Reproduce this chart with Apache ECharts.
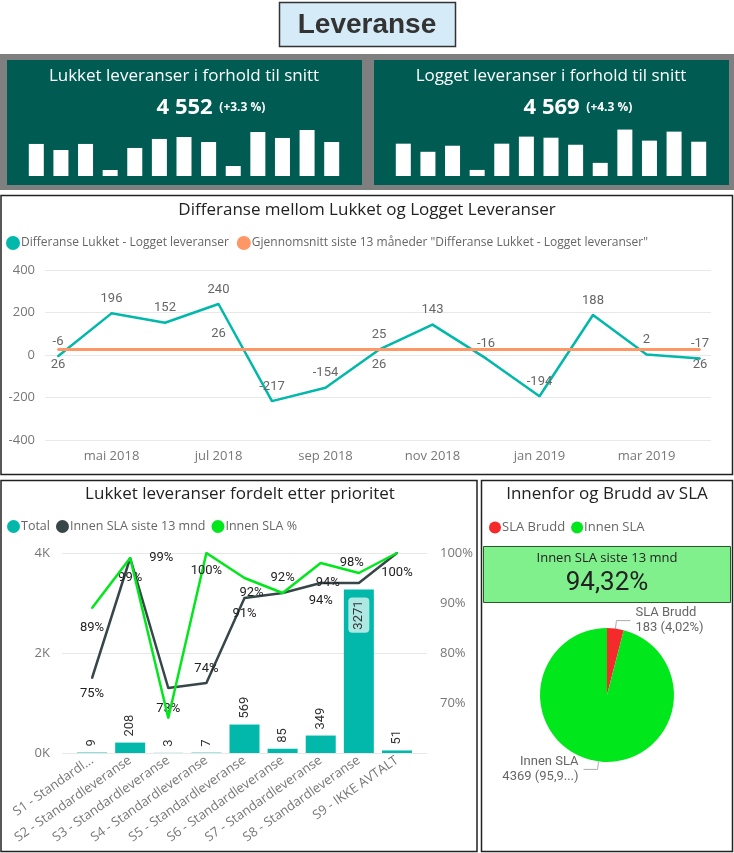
<!DOCTYPE html>
<html><head><meta charset="utf-8">
<script src="https://cdn.jsdelivr.net/npm/echarts@6/dist/echarts.min.js"></script>
<style>html,body{margin:0;padding:0;background:#fff}#c{width:734px;height:853px}</style>
</head><body><div id="c"></div>
<script>
// ---- data ----
const miniLukket = [359, 291, 359, 67, 314, 415, 437, 381, 112, 493, 426, 515, 381];
const miniLogget = [362, 271, 339, 68, 362, 441, 429, 350, 147, 520, 396, 497, 384];
const months = ['apr 2018','mai 2018','jun 2018','jul 2018','aug 2018','sep 2018','okt 2018','nov 2018','des 2018','jan 2019','feb 2019','mar 2019','apr 2019'];
const diffValues = [-6, 196, 152, 240, -217, -154, 25, 143, -16, -194, 188, 2, -17];
const avgValue = 26;
const monthTicks = [1, 3, 5, 7, 9, 11];
const priorities = ['S1 - Standardl...','S2 - Standardleveranse','S3 - Standardleveranse','S4 - Standardleveranse','S5 - Standardleveranse','S6 - Standardleveranse','S7 - Standardleveranse','S8 - Standardleveranse','S9 - IKKE AVTALT'];
const totals = [9, 208, 3, 7, 569, 85, 349, 3271, 51];
const innenSla13 = [75, 99, 73, 74, 91, 92, 94, 94, 100];
const innenSlaPct = [89, 99, 67, 100, 95, 92, 98, 96, 100];
const slaNames = ['SLA Brudd', 'Innen SLA'];
const slaValues = [183, 4369];
const kpiLukket = '4 552', kpiLukketPct = '(+3.3 %)';
const kpiLogget = '4 569', kpiLoggetPct = '(+4.3 %)';
const slaCardValue = '94,32%';

// ---- styles ----
const F = '"Segoe UI","Open Sans",sans-serif';
const FN = 'Roboto,"DejaVu Sans",sans-serif';
const TEAL = '#01B8AA', DARK = '#374649', ORANGE = '#FE9666', GREEN = '#00e81c', RED = '#f52a2a';
const diffName = 'Differanse Lukket - Logget leveranser';
const avgName = 'Gjennomsnitt siste 13 måneder "Differanse Lukket - Logget leveranser"';

const chart = echarts.init(document.getElementById('c'));

function txt(x, y, text, font, fill, align) {
  return {type:'text', x:x, y:y, z:50, style:{text:text, font:font, fill:fill, textAlign:align||'center', textVerticalAlign:'middle'}};
}
function box(x, y, w, h, fill, stroke, lw, z) {
  return {type:'rect', z:z===undefined?-10:z, shape:{x:x, y:y, width:w, height:h}, style:{fill:fill, stroke:stroke||null, lineWidth:lw||0}};
}

const avgLabelPos = {0:'bottom', 3:'top', 6:'bottom', 12:'bottom'};
// label placement per point: [position, distance] or null (hidden)
const darkLabels = [['bottom',8],['bottom',12],['bottom',13],['top',7],['bottom',8],['left',18],['bottom',10],['left',18],null];
const greenLabels = [['bottom',12],['right',18],null,['bottom',10],null,['top',8],['right',18],null,['bottom',12]];
function pctData(vals, cfg) {
  return vals.map((v,i)=>({value:v, label: cfg[i] ? {show:true, position:cfg[i][0], distance:cfg[i][1]} : {show:false}}));
}

const option = {
  animation: false,
  textStyle: {fontFamily: F},
  graphic: [
    box(279.5, 2.5, 176, 44, '#d5ecf8', '#333', 1.5),
    txt(367, 25, 'Leveranse', 'bold 28px "Liberation Sans", Arial, sans-serif', '#333'),
    box(0, 54, 734, 136, '#7f7f7f'),
    box(7, 60, 355, 125, '#005c53'),
    box(374, 60, 355, 125, '#005c53'),
    txt(184, 76, 'Lukket leveranser i forhold til snitt', '17px ' + F, '#fff'),
    txt(551, 76, 'Logget leveranser i forhold til snitt', '17px ' + F, '#fff'),
    {type:'text', x:211, y:108, z:50, style:{text:'{a|' + kpiLukket + '}  {b|' + kpiLukketPct + '}', textAlign:'center', textVerticalAlign:'middle', fill:'#fff',
      rich:{a:{font:'bold 22px ' + F, fill:'#fff'}, b:{font:'bold 12px ' + F, fill:'#fff'}}}},
    {type:'text', x:578, y:108, z:50, style:{text:'{a|' + kpiLogget + '}  {b|' + kpiLoggetPct + '}', textAlign:'center', textVerticalAlign:'middle', fill:'#fff',
      rich:{a:{font:'bold 22px ' + F, fill:'#fff'}, b:{font:'bold 12px ' + F, fill:'#fff'}}}},
    box(1, 195.5, 731.5, 279, null, '#222', 1.5),
    txt(367, 210, 'Differanse mellom Lukket og Logget Leveranser', '17px ' + F, '#222'),
    box(1, 480.5, 476, 371, null, '#222', 1.5),
    txt(240, 494, 'Lukket leveranser fordelt etter prioritet', '17px ' + F, '#222'),
    box(481.5, 480.5, 251, 371, null, '#222', 1.5),
    txt(607, 494, 'Innenfor og Brudd av SLA', '17px ' + F, '#222'),
    box(483.5, 546.5, 247, 56, '#80f08c', '#2a5a2a', 1, -5),
    txt(607, 558, 'Innen SLA siste 13 mnd', '13px ' + F, '#222'),
    txt(607, 583, slaCardValue, '26px ' + FN, '#222')
  ],
  legend: [
    {data:[diffName, avgName], left:6, top:236, itemWidth:14, itemHeight:14, itemGap:8, icon:'circle', padding:0,
      textStyle:{fontSize:12, color:'#666', fontFamily:F, padding:[0,0,0,-4]}},
    {data:['Total','Innen SLA siste 13 mnd','Innen SLA %'], left:7, top:520, itemWidth:13, itemHeight:13, itemGap:6, icon:'circle', padding:0,
      textStyle:{fontSize:12.5, color:'#666', fontFamily:F, padding:[0,0,0,-4]}},
    {data:slaNames, left:489, top:521, itemWidth:12, itemHeight:12, itemGap:6, icon:'circle', padding:0,
      textStyle:{fontSize:13, color:'#666', fontFamily:F, padding:[0,0,0,-4]}}
  ],
  grid: [
    {left:24, width:320, top:126, height:50},
    {left:391, width:320, top:126, height:50},
    {left:45, right:23, top:270, bottom:413},
    {left:73, right:318, top:553, bottom:100},
    {left:62, right:307, top:553, bottom:100}
  ],
  xAxis: [
    {type:'category', gridIndex:0, data:months, show:false},
    {type:'category', gridIndex:1, data:months, show:false},
    {type:'value', gridIndex:2, min:-0.243, max:12.206, splitLine:{show:false}, axisLine:{show:false}, axisTick:{show:false},
      axisLabel:{customValues:monthTicks, formatter:(v)=>months[Math.round(v)], color:'#777', fontSize:13, margin:10, fontFamily:F}},
    {type:'category', gridIndex:3, data:priorities, axisLine:{show:false}, axisTick:{show:false},
      axisLabel:{rotate:35, color:'#777', fontSize:13, margin:6, fontFamily:F, interval:0}},
    {type:'value', gridIndex:4, show:false, min:0, max:1}
  ],
  yAxis: [
    {type:'value', gridIndex:0, min:0, max:560, show:false},
    {type:'value', gridIndex:1, min:0, max:560, show:false},
    {type:'value', gridIndex:2, min:-400, max:400, interval:200, axisLine:{show:false}, axisTick:{show:false},
      axisLabel:{color:'#777', fontSize:13, margin:10, fontFamily:F},
      splitLine:{lineStyle:{color:'#e8e8e8'}}},
    {type:'value', gridIndex:3, min:0, max:4000, interval:2000, axisLine:{show:false}, axisTick:{show:false},
      axisLabel:{color:'#777', fontSize:13, margin:23, fontFamily:F, formatter:(v)=>(v/1000)+'K'},
      splitLine:{show:false}},
    {type:'value', gridIndex:3, min:60, max:100, interval:10, position:'right', splitLine:{show:false}, axisLine:{show:false}, axisTick:{show:false},
      axisLabel:{color:'#777', fontSize:13, margin:24, fontFamily:F, showMinLabel:false, formatter:(v)=>v+'%'}},
    {type:'value', gridIndex:4, min:0, max:4000, interval:2000, axisLine:{show:false}, axisTick:{show:false}, axisLabel:{show:false},
      splitLine:{lineStyle:{color:'#e8e8e8'}}}
  ],
  series: [
    {type:'bar', name:'Lukket mnd', xAxisIndex:0, yAxisIndex:0, data:miniLukket, barWidth:15, itemStyle:{color:'#fff'}, silent:true},
    {type:'bar', name:'Logget mnd', xAxisIndex:1, yAxisIndex:1, data:miniLogget, barWidth:15, itemStyle:{color:'#fff'}, silent:true},
    {type:'line', name:diffName, xAxisIndex:2, yAxisIndex:2, data:diffValues.map((v,i)=>[i,v]), color:TEAL, symbol:'circle', symbolSize:2, showSymbol:true,
      lineStyle:{width:2.5, color:TEAL}, z:3,
      label:{show:true, position:'top', distance:7, color:'#666', fontSize:13, fontFamily:FN, formatter:(p)=>p.value[1]}},
    {type:'line', name:avgName, xAxisIndex:2, yAxisIndex:2, symbol:'circle', symbolSize:2, showSymbol:true,
      data:months.map((m,i)=>({value:[i,avgValue], label:{show: avgLabelPos[i]!==undefined, position: avgLabelPos[i]||'top'}})), color:ORANGE,
      lineStyle:{width:3, color:ORANGE}, z:4,
      label:{distance:8, color:'#666', fontSize:13, fontFamily:FN, formatter:(p)=>p.value[1]}},
    {type:'bar', name:'Total', xAxisIndex:3, yAxisIndex:3, color:TEAL, barWidth:30,
      data: totals.map((v)=> v > 2000 ? {value:v, label:{position:'insideTop', align:'right', distance:8, backgroundColor:'#aee8e2', padding:[4,3,4,3], borderRadius:4}} : v),
      label:{show:true, position:'top', rotate:90, align:'left', verticalAlign:'middle', distance:6, color:'#333', fontSize:13, fontFamily:FN}},
    {type:'line', name:'Innen SLA siste 13 mnd', xAxisIndex:3, yAxisIndex:4, color:DARK, symbol:'circle', symbolSize:2, showSymbol:true, lineStyle:{width:2.5, color:DARK}, z:5,
      data: pctData(innenSla13, darkLabels),
      label:{color:'#222', fontSize:13, fontFamily:FN, formatter:'{c}%'}},
    {type:'line', name:'Innen SLA %', xAxisIndex:3, yAxisIndex:4, color:GREEN, symbol:'circle', symbolSize:2, showSymbol:true, lineStyle:{width:2.5, color:GREEN}, z:6,
      data: pctData(innenSlaPct, greenLabels),
      label:{color:'#222', fontSize:13, fontFamily:FN, formatter:'{c}%'}},
    {type:'pie', name:'SLA', center:[607,695], radius:67, startAngle:90, clockwise:true,
      data: slaNames.map((n,i)=>({name:n, value:slaValues[i], itemStyle:{color: i===0?RED:GREEN}})),
      label:{show:true, position:'outside', color:'#666', fontSize:13, fontFamily:FN, lineHeight:15,
        formatter:(p)=>{ const pct = (p.value/slaValues.reduce((a,b)=>a+b,0)*100).toFixed(2).replace('.',',');
          const s = p.value + ' (' + pct + '%)'; return p.name + '\n' + (s.length > 12 ? s.slice(0,10) + '...)' : s); }},
      labelLine:{show:true, length:8, length2:14, lineStyle:{color:'#aaa', width:1}}}
  ]
};
chart.setOption(option);
</script></body></html>
